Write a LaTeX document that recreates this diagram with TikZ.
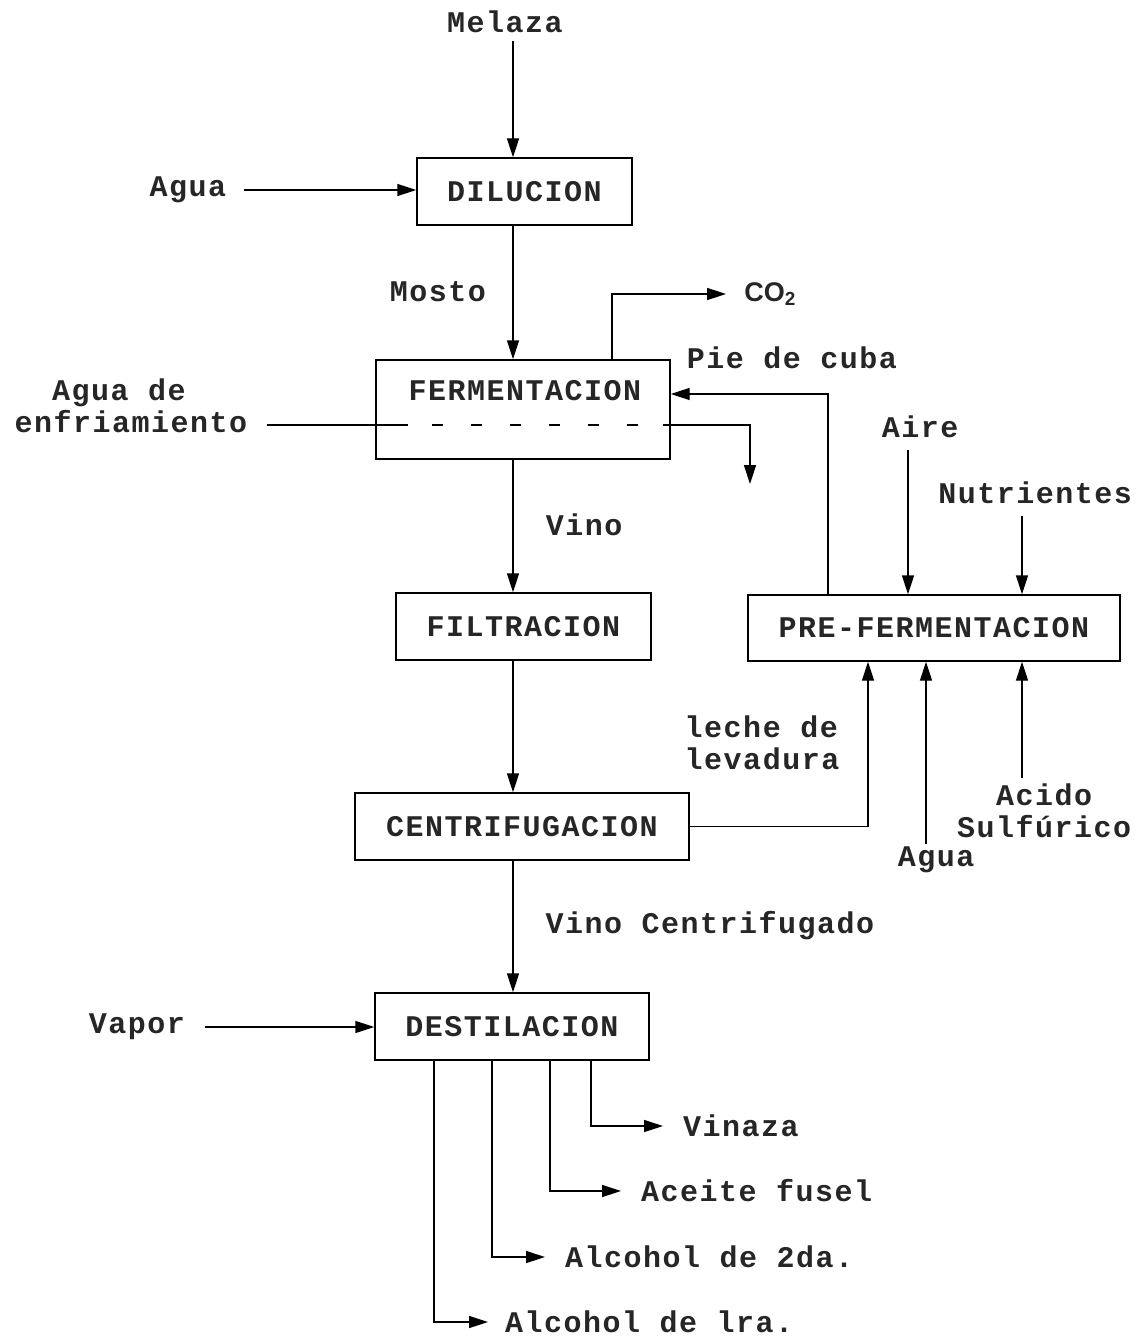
\documentclass[tikz,border=0pt]{standalone}
\usepackage{fontspec}
\setmonofont{Liberation Mono}[LetterSpace=5]
\setsansfont{Liberation Sans}
\usetikzlibrary{arrows.meta, positioning}

\tikzset{
  proc/.style={draw, line width=1.4pt, inner sep=0pt},
  flow/.style={line width=1.4pt, -{Triangle[length=19pt,width=12pt]}},
  pipe/.style={line width=1.4pt},
  lbl/.style={inner sep=0pt, font=\ttfamily\bfseries\fontsize{30}{32.5}\selectfont}
}

\begin{document}
\begin{tikzpicture}[x=1pt, y=-1pt, every node/.style={text=black!85}]
  \useasboundingbox (0,0) rectangle (1145,1337);

  % x positions of the lines
  \coordinate (main) at (513,0);
  \coordinate (co2-x) at (612,0);
  \coordinate (pie) at (828,394);
  \coordinate (aire-x) at (908,0);
  \coordinate (nutr-x) at (1022,0);
  \coordinate (leche-x) at (868,0);
  \coordinate (agua2-x) at (926,0);
  \coordinate (vin-x) at (591,0);
  \coordinate (fus-x) at (550,0);
  \coordinate (al2-x) at (492,0);
  \coordinate (al1-x) at (434,0);
  \coordinate (cw-in) at (408,425);
  \coordinate (cw-out) at (663,425);
  \coordinate (cw-end) at (750,484);

  % dilucion
  \node[lbl] at (505,22) (melaza) {Melaza};
  \node[proc, lbl, minimum width=215, minimum height=67] at (524.5,191.5) (dilucion) {DILUCION};
  \node[lbl] at (188,190) (agua1) {Agua};
  \draw[flow, shorten <=8pt] (melaza.south -| main) -- (dilucion.north -| main);
  \draw[flow, shorten <=18pt] (agua1.east) -- (agua1.east -| dilucion.west);

  % fermentacion
  \node[proc, minimum width=294, minimum height=99] at (523,409.5) (ferm) {};
  \node[lbl] at (525,391) (ferm-txt) {FERMENTACION};
  \node[lbl] at (438,292) (mosto) {Mosto};
  \draw[flow] (dilucion.south -| main) -- (ferm.north -| main);
  \node[lbl, align=left] at (131,406) (enfr) {\phantom{en}Agua de\\enfriamiento};
  \draw[pipe, shorten <=20pt] (enfr.east |- cw-in) -- (cw-in);
  \draw[pipe, dash pattern=on 11pt off 28pt] (432,425) -- (640,425);
  \draw[flow] (cw-out) -| (cw-end);
  \node[font=\sffamily\bfseries\fontsize{27}{30}\selectfont, inner sep=0pt] at (770,294) (co2) {CO\textsubscript{2}};
  \draw[flow, shorten >=18pt] (ferm.north -| co2-x) |- (co2.west);

  % pre-fermentacion
  \node[proc, lbl, minimum width=372, minimum height=66] at (934,628) (pref) {PRE-FERMENTACION};
  \node[lbl] at (792,358) (pie-txt) {Pie de cuba};
  \draw[flow] (pref.north -| pie) |- (ferm.east |- pie);
  \node[lbl] at (920,427) (aire) {Aire};
  \node[lbl] at (1035,493) (nutr) {Nutrientes};
  \draw[flow, shorten <=12pt] (aire.south -| aire-x) -- (pref.north -| aire-x);
  \draw[flow, shorten <=12pt] (nutr.south -| nutr-x) -- (pref.north -| nutr-x);
  \node[lbl] at (936,860) (agua2) {Agua};
  \node[lbl, align=center] at (1044,811) (acido) {Acido\\Sulf\'urico};
  \draw[flow, shorten <=3pt] (agua2.north -| agua2-x) -- (pref.south -| agua2-x);
  \draw[flow, shorten <=6pt] (acido.north -| nutr-x) -- (pref.south -| nutr-x);

  % filtracion y centrifugacion
  \node[lbl] at (584,525) (vino) {Vino};
  \node[proc, lbl, minimum width=255, minimum height=67] at (523.5,626.5) (filt) {FILTRACION};
  \draw[flow] (ferm.south -| main) -- (filt.north -| main);
  \node[proc, lbl, minimum width=334, minimum height=67] at (522,826.5) (centr) {CENTRIFUGACION};
  \draw[flow] (filt.south -| main) -- (centr.north -| main);
  \node[lbl, align=left] at (762,743) (leche) {leche de\\levadura};
  \draw[flow] (centr.east) -| (pref.south -| leche-x);

  % destilacion
  \node[lbl] at (710,926) (vc) {Vino Centrifugado};
  \node[proc, lbl, minimum width=274, minimum height=67] at (512,1026.5) (dest) {DESTILACION};
  \draw[flow] (centr.south -| main) -- (dest.north -| main);
  \node[lbl] at (137,1027) (vapor) {Vapor};
  \draw[flow, shorten <=20pt] (vapor.east) -- (vapor.east -| dest.west);

  % productos
  \node[lbl, anchor=west] at (683,1126) (vinaza) {Vinaza};
  \node[lbl, anchor=west] at (641,1191) (fusel) {Aceite fusel};
  \node[lbl, anchor=west] at (565,1257) (alc2) {Alcohol de 2da.};
  \node[lbl, anchor=west] at (505,1322) (alc1) {Alcohol de lra.};
  \draw[flow, shorten >=20pt] (dest.south -| vin-x) |- (vinaza.west);
  \draw[flow, shorten >=20pt] (dest.south -| fus-x) |- (fusel.west);
  \draw[flow, shorten >=20pt] (dest.south -| al2-x) |- (alc2.west);
  \draw[flow, shorten >=17pt] (dest.south -| al1-x) |- (alc1.west);
\end{tikzpicture}
\end{document}
